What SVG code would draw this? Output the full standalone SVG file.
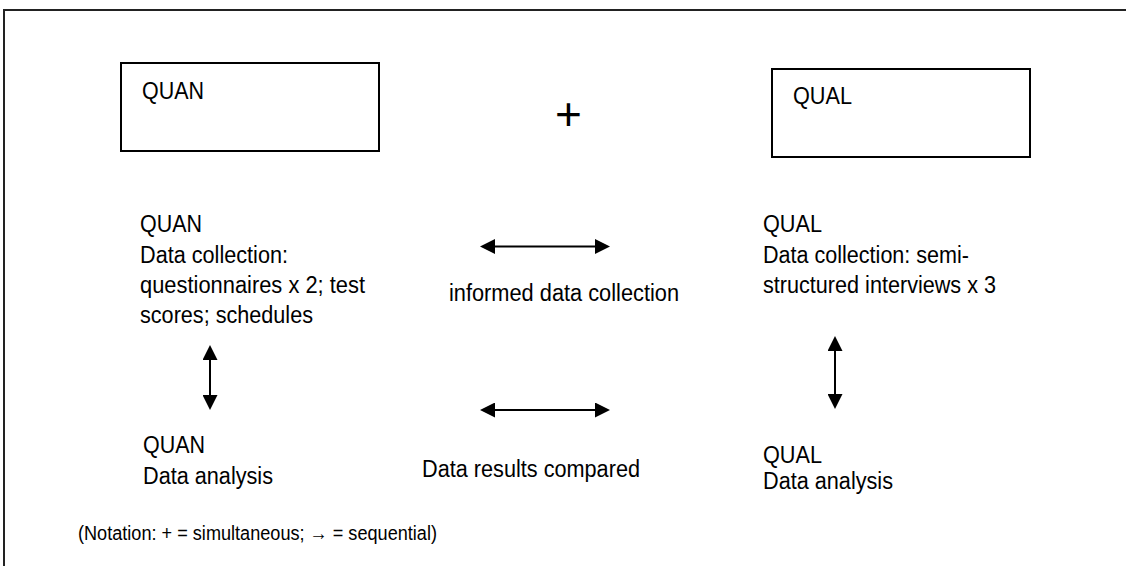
<svg xmlns="http://www.w3.org/2000/svg" width="1126" height="566" viewBox="0 0 1126 566">
<style>
  text { font-family: "Liberation Sans", Arial, sans-serif; fill: #000; }
  .t { font-size: 23.5px; }
  .note { font-size: 19.5px; }
  .box { fill: #fff; stroke: #000; stroke-width: 2; }
  .conn { stroke: #000; stroke-width: 2; fill: none; }
</style>
<defs>
  <marker id="ah" markerUnits="userSpaceOnUse" markerWidth="15" markerHeight="15" viewBox="0 -7.5 15 15" refX="0" refY="0" orient="auto-start-reverse">
    <path d="M0,-7.5 L15,0 L0,7.5 z" fill="#000"/>
  </marker>
</defs>
<rect width="1126" height="566" fill="#fff"/>
<path d="M4,566 V10 H1126" fill="none" stroke="#222" stroke-width="2"/>

<g id="quan-box">
  <rect class="box" x="121" y="63" width="258" height="88"/>
  <text class="t" x="142" y="99" textLength="62" lengthAdjust="spacingAndGlyphs">QUAN</text>
</g>
<g id="plus">
  <text x="568.5" y="130" font-size="46" text-anchor="middle">+</text>
</g>
<g id="qual-box">
  <rect class="box" x="772" y="69" width="258" height="88"/>
  <text class="t" x="793" y="104" textLength="59" lengthAdjust="spacingAndGlyphs">QUAL</text>
</g>

<g id="quan-collection">
  <text class="t" x="140" y="232" textLength="62" lengthAdjust="spacingAndGlyphs">QUAN</text>
  <text class="t" x="140" y="263" textLength="148" lengthAdjust="spacingAndGlyphs">Data collection:</text>
  <text class="t" x="140" y="293" textLength="225" lengthAdjust="spacingAndGlyphs">questionnaires x 2; test</text>
  <text class="t" x="140" y="323" textLength="173" lengthAdjust="spacingAndGlyphs">scores; schedules</text>
</g>
<g id="informed">
  <text class="t" x="449" y="301" textLength="230" lengthAdjust="spacingAndGlyphs">informed data collection</text>
</g>
<g id="qual-collection">
  <text class="t" x="763" y="232" textLength="59" lengthAdjust="spacingAndGlyphs">QUAL</text>
  <text class="t" x="763" y="263" textLength="206" lengthAdjust="spacingAndGlyphs">Data collection: semi-</text>
  <text class="t" x="763" y="293" textLength="233" lengthAdjust="spacingAndGlyphs">structured interviews x 3</text>
</g>

<g id="quan-analysis">
  <text class="t" x="143" y="453" textLength="62" lengthAdjust="spacingAndGlyphs">QUAN</text>
  <text class="t" x="143" y="484" textLength="130" lengthAdjust="spacingAndGlyphs">Data analysis</text>
</g>
<g id="compared">
  <text class="t" x="422" y="477" textLength="218" lengthAdjust="spacingAndGlyphs">Data results compared</text>
</g>
<g id="qual-analysis">
  <text class="t" x="763" y="463" textLength="59" lengthAdjust="spacingAndGlyphs">QUAL</text>
  <text class="t" x="763" y="489" textLength="130" lengthAdjust="spacingAndGlyphs">Data analysis</text>
</g>

<g id="connectors">
  <line class="conn" x1="495" y1="246.5" x2="595" y2="246.5" marker-start="url(#ah)" marker-end="url(#ah)"/>
  <line class="conn" x1="495" y1="410" x2="595" y2="410" marker-start="url(#ah)" marker-end="url(#ah)"/>
  <line class="conn" x1="210" y1="360" x2="210" y2="395" marker-start="url(#ah)" marker-end="url(#ah)"/>
  <line class="conn" x1="835" y1="351" x2="835" y2="394" marker-start="url(#ah)" marker-end="url(#ah)"/>
</g>

<g id="notation">
  <text class="note" x="78" y="540" textLength="359" lengthAdjust="spacingAndGlyphs">(Notation: + = simultaneous; → = sequential)</text>
</g>
</svg>
